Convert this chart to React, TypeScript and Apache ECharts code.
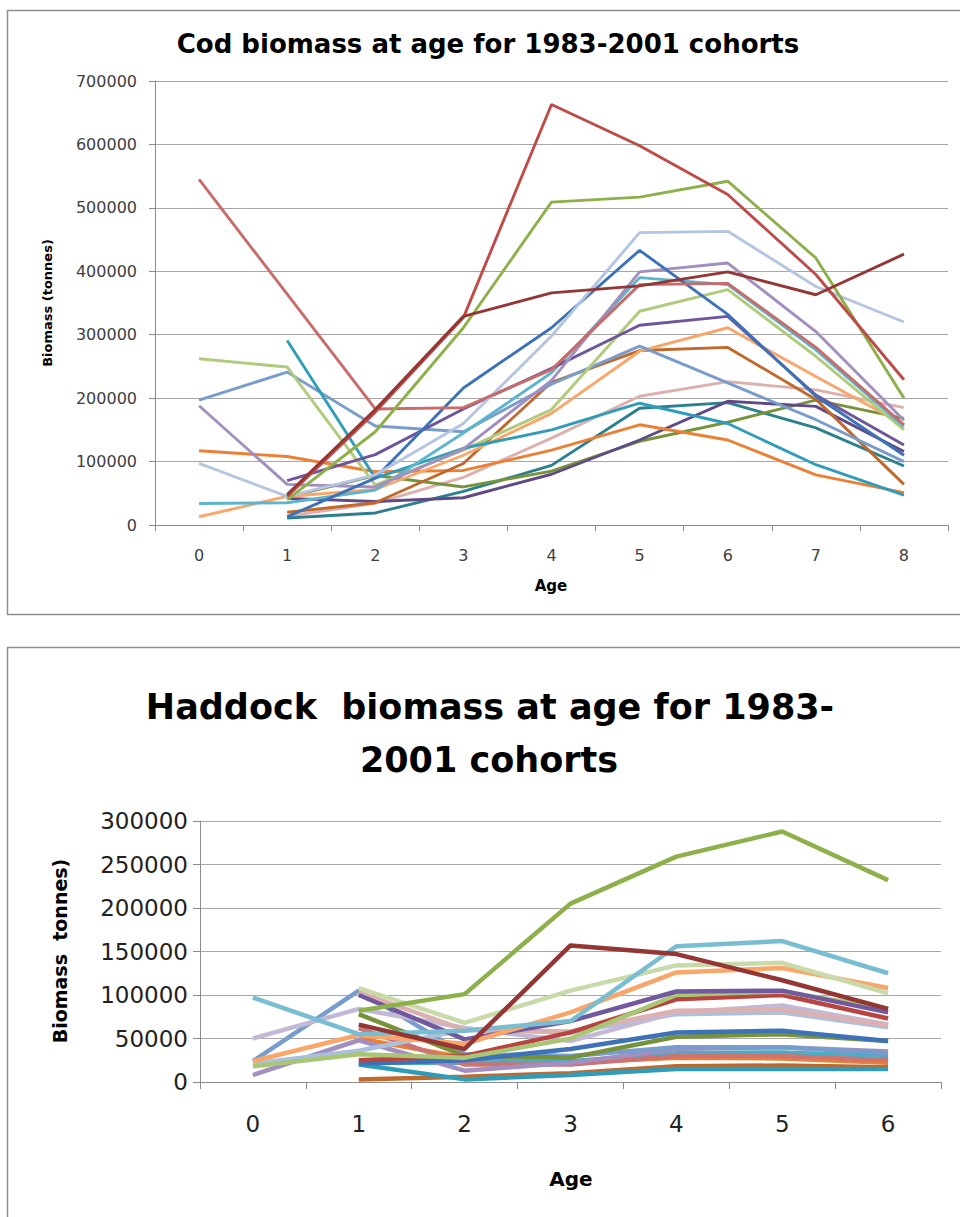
import React, { useEffect, useRef } from "react";
import * as echarts from "echarts";

// ---------- Cod (ages 0-8) ----------
const codAges = ["0", "1", "2", "3", "4", "5", "6", "7", "8"];
const codYTicks = { min: 0, max: 700000, interval: 100000 };

const codA = [545000, 364000, 183000, 185000, 245000, 379000, 381000, 280000, 158000];
const codB = [null, 45000, 178000, 327000, 663000, 598000, 521000, 395000, 229000];
const codC = [null, 48000, 182000, 329000, 366000, 377000, 399000, 363000, 427000];
const codD = [null, 40000, 147000, 311000, 509000, 517000, 542000, 421000, 200000];
const codE = [97000, 45000, 79000, 160000, 298000, 461000, 463000, 376000, 320000];
const codF = [null, 13000, 74000, 216000, 311000, 433000, 332000, 203000, 110000];
const codG = [188000, 64000, 60000, 120000, 228000, 399000, 413000, 305000, 165000];
const codH = [null, 70000, 111000, 183000, 247000, 315000, 329000, 205000, 126000];
const codI = [34000, 35000, 55000, 145000, 240000, 390000, 379000, 276000, 155000];
const codJ = [null, 291000, 74000, 121000, 150000, 192000, 160000, 95000, 47000];
const codK = [262000, 249000, 63000, 118000, 182000, 337000, 371000, 266000, 150000];
const codL = [197000, 241000, 156000, 147000, 222000, 282000, 224000, 166000, 100000];
const codM = [117000, 108000, 84000, 86000, 118000, 158000, 134000, 79000, 51000];
const codN = [13000, 45000, 56000, 110000, 176000, 274000, 311000, 234000, 158000];
const codO = [null, 20000, 35000, 97000, 225000, 275000, 280000, 198000, 64000];
const codP = [null, 14000, 34000, 75000, 137000, 203000, 226000, 213000, 185000];
const codQ = [null, 11000, 19000, 53000, 94000, 184000, 193000, 153000, 93000];
const codR = [null, 44000, 78000, 60000, 85000, 132000, 162000, 197000, 168000];
const codS = [null, 42000, 37000, 43000, 80000, 134000, 195000, 187000, 116000];

const codSeriesData = [codP, codQ, codR, codS, codM, codO, codN, codL, codK, codJ, codI, codH, codG, codF, codE, codA, codD, codB, codC];
const codColors = ["#DDB0B0", "#2B7F8F", "#76933C", "#5F4A86", "#EB8035", "#C0692A", "#F9A66B", "#789CCC", "#AFCB7B", "#2F9DBA", "#5BB5CD", "#6F559A", "#A28FC0", "#3D72B8", "#B3C5E1", "#C96B69", "#8DB04B", "#BE4B48", "#943634"];

// ---------- Haddock (ages 0-6) ----------
const hadAges = ["0", "1", "2", "3", "4", "5", "6"];
const hadYTicks = { min: 0, max: 300000, interval: 50000 };

const had01 = [null, 82000, 101000, 205000, 259000, 288000, 232000];
const had02 = [null, 66000, 38000, 157000, 147000, 117000, 84000];
const had03 = [97000, 55000, 59000, 70000, 156000, 162000, 125000];
const had04 = [null, 108000, 68000, 105000, 134000, 137000, 102000];
const had05 = [24000, 54000, 44000, 80000, 126000, 131000, 108000];
const had06 = [null, 100000, 49000, 70000, 104000, 105000, 80000];
const had07 = [18000, 32000, 28000, 50000, 100000, 104000, 84000];
const had08 = [null, 25000, 30000, 57000, 95000, 100000, 73000];
const had09 = [null, 103000, 60000, 58000, 82000, 83000, 65000];
const had10 = [50000, 84000, 62000, 47000, 80000, 88000, 66000];
const had11 = [24000, 105000, 32000, 30000, 40000, 40000, 33000];
const had12 = [null, 21000, 25000, 38000, 57000, 59000, 47000];
const had13 = [null, 78000, 30000, 28000, 52000, 55000, 47000];
const had14 = [21000, 36000, 60000, 57000, 78000, 80000, 63000];
const had15 = [null, 50000, 28000, 22000, 28000, 27000, 22000];
const had16 = [8000, 48000, 13000, 22000, 38000, 40000, 35000];
const had17 = [null, 3000, 6000, 10000, 18000, 19000, 17000];
const had18 = [null, 20000, 3000, 8000, 15000, 15000, 15000];
const had19 = [null, 62000, 20000, 20000, 30000, 30000, 25000];
const had20 = [null, 22000, 22000, 24000, 33000, 34000, 30000];

const hadSeriesData = [had17, had18, had15, had20, had19, had16, had11, had13, had12, had14, had10, had09, had08, had07, had06, had05, had04, had03, had02, had01];
const hadColors = ["#C0692A", "#2F9DBA", "#EB8035", "#4BACC6", "#CD7371", "#A28FC0", "#789CCC", "#76933C", "#3D72B8", "#A9C0DF", "#C3B8D6", "#DDB0B0", "#B8443F", "#A9C675", "#7159A0", "#F9A66B", "#C9DAAA", "#79BDD3", "#943634", "#8DB04B"];

const FONT = "DejaVu Sans";
const AXIS_GRAY = "#8C8C8C";
const GRID_GRAY = "#A6A6A6";
const LABEL = "#404040";

export default function App() {
  const ref = useRef<HTMLDivElement>(null);

  useEffect(() => {
    if (!ref.current) return;
    const chart = echarts.init(ref.current, undefined, { renderer: "svg" });

    const codSeries = codSeriesData.map((d, i) => ({
      type: "line",
      xAxisIndex: 0,
      yAxisIndex: 0,
      data: d,
      symbol: "none",
      silent: true,
      lineStyle: { width: 2.9, color: codColors[i] },
      itemStyle: { color: codColors[i] },
    }));
    const hadSeries = hadSeriesData.map((d, i) => ({
      type: "line",
      xAxisIndex: 1,
      yAxisIndex: 1,
      data: d,
      symbol: "none",
      silent: true,
      lineStyle: { width: 4.5, color: hadColors[i] },
      itemStyle: { color: hadColors[i] },
    }));

    const option = {
      animation: false,
      backgroundColor: "#ffffff",
      grid: [
        { left: 155, top: 81, width: 793, height: 444 },
        { left: 200, top: 821, width: 741, height: 261 },
      ],
      xAxis: [
        {
          gridIndex: 0,
          type: "category",
          data: codAges,
          boundaryGap: true,
          axisLine: { lineStyle: { color: AXIS_GRAY, width: 1 } },
          axisTick: { show: true, length: 6, lineStyle: { color: AXIS_GRAY } },
          axisLabel: { margin: 22, fontSize: 16, fontFamily: FONT, color: LABEL },
          splitLine: { show: false },
        },
        {
          gridIndex: 1,
          type: "category",
          data: hadAges,
          boundaryGap: true,
          axisLine: { lineStyle: { color: AXIS_GRAY, width: 1 } },
          axisTick: { show: true, length: 7, lineStyle: { color: AXIS_GRAY } },
          axisLabel: { margin: 30, fontSize: 23, fontFamily: FONT, color: "#222" },
          splitLine: { show: false },
        },
      ],
      yAxis: [
        {
          gridIndex: 0,
          type: "value",
          min: codYTicks.min,
          max: codYTicks.max,
          interval: codYTicks.interval,
          axisLine: { show: true, lineStyle: { color: AXIS_GRAY, width: 1 } },
          axisTick: { show: true, length: 6, lineStyle: { color: AXIS_GRAY } },
          splitLine: { show: true, lineStyle: { color: GRID_GRAY, width: 1 } },
          axisLabel: {
            margin: 18,
            fontSize: 16,
            fontFamily: FONT,
            color: LABEL,
            formatter: (v: number) => String(v),
          },
        },
        {
          gridIndex: 1,
          type: "value",
          min: hadYTicks.min,
          max: hadYTicks.max,
          interval: hadYTicks.interval,
          axisLine: { show: true, lineStyle: { color: AXIS_GRAY, width: 1 } },
          axisTick: { show: true, length: 7, lineStyle: { color: AXIS_GRAY } },
          splitLine: { show: true, lineStyle: { color: GRID_GRAY, width: 1.2 } },
          axisLabel: {
            margin: 12,
            fontSize: 23,
            fontFamily: FONT,
            color: "#222",
            formatter: (v: number) => String(v),
          },
        },
      ],
      series: [...codSeries, ...hadSeries],
      graphic: [
        {
          type: "rect",
          z: 0,
          shape: { x: 7.5, y: 10.5, width: 1000, height: 604 },
          style: { fill: "none", stroke: "#8E8E8E", lineWidth: 1.5 },
        },
        {
          type: "rect",
          z: 0,
          shape: { x: 7.5, y: 647.5, width: 1000, height: 620 },
          style: { fill: "none", stroke: "#8E8E8E", lineWidth: 1.5 },
        },
        {
          type: "text",
          x: 488,
          y: 44,
          style: {
            text: "Cod biomass at age for 1983-2001 cohorts",
            font: `bold 26px "${FONT}"`,
            fill: "#000",
            align: "center",
            verticalAlign: "middle",
          },
        },
        {
          type: "text",
          x: 47,
          y: 303,
          rotation: Math.PI / 2,
          style: {
            text: "Biomass (tonnes)",
            font: `bold 13px "${FONT}"`,
            fill: "#000",
            align: "center",
            verticalAlign: "middle",
          },
        },
        {
          type: "text",
          x: 551,
          y: 586,
          style: {
            text: "Age",
            font: `bold 15px "${FONT}"`,
            fill: "#000",
            align: "center",
            verticalAlign: "middle",
          },
        },
        {
          type: "text",
          x: 490,
          y: 707,
          style: {
            text: "Haddock  biomass at age for 1983-",
            font: `bold 35px "${FONT}"`,
            fill: "#000",
            align: "center",
            verticalAlign: "middle",
          },
        },
        {
          type: "text",
          x: 489,
          y: 760,
          style: {
            text: "2001 cohorts",
            font: `bold 35px "${FONT}"`,
            fill: "#000",
            align: "center",
            verticalAlign: "middle",
          },
        },
        {
          type: "text",
          x: 60,
          y: 951,
          rotation: Math.PI / 2,
          style: {
            text: "Biomass  tonnes)",
            font: `bold 19px "${FONT}"`,
            fill: "#000",
            align: "center",
            verticalAlign: "middle",
          },
        },
        {
          type: "text",
          x: 571,
          y: 1179,
          style: {
            text: "Age",
            font: `bold 20px "${FONT}"`,
            fill: "#000",
            align: "center",
            verticalAlign: "middle",
          },
        },
      ],
    };

    chart.setOption(option as any);
    return () => chart.dispose();
  }, []);

  return (
    <div
      ref={ref}
      style={{ position: "absolute", left: 0, top: 0, width: 960, height: 1217, background: "#fff" }}
    />
  );
}
